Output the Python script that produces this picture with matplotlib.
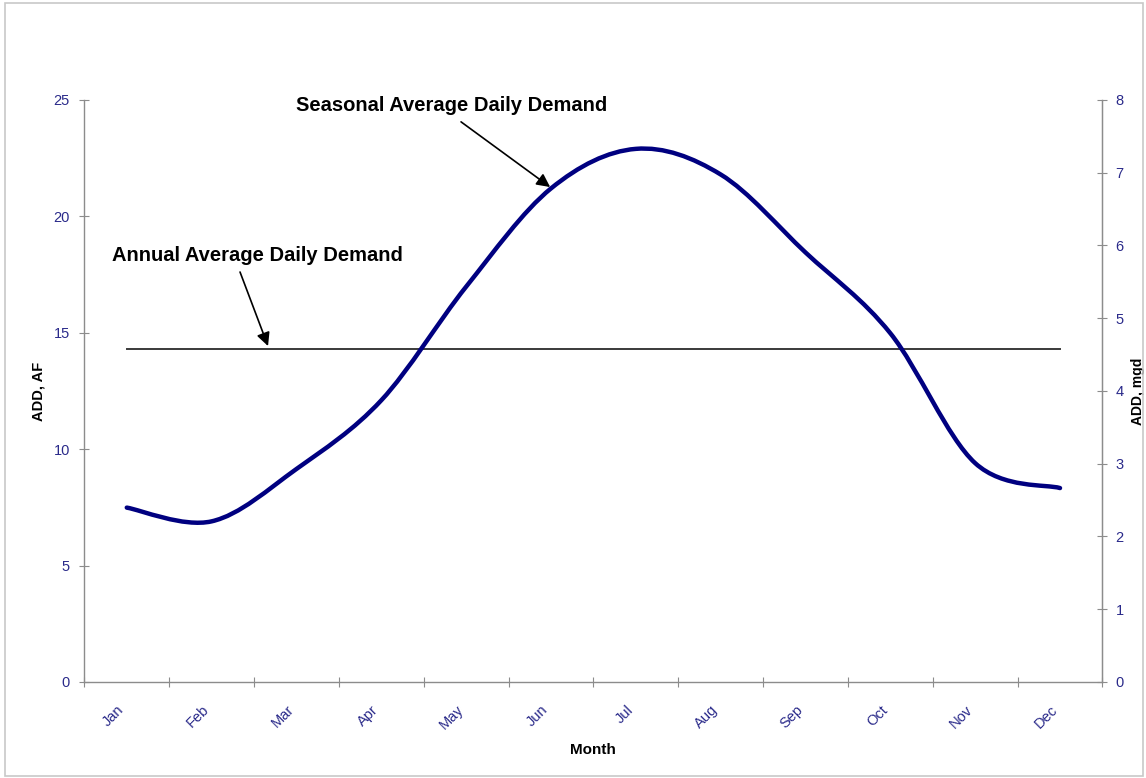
import matplotlib
matplotlib.use("Agg")
import matplotlib.pyplot as plt
from matplotlib.path import Path
from matplotlib.patches import PathPatch, Rectangle
import numpy as np

plt.rcParams['font.family'] = ['Liberation Sans', 'DejaVu Sans']

months = ["Jan", "Feb", "Mar", "Apr", "May", "Jun", "Jul", "Aug", "Sep", "Oct", "Nov", "Dec"]
seasonal_add_af = [7.49, 6.9, 9.15, 12.1, 16.98, 21.2, 22.9, 21.8, 18.45, 14.98, 9.4, 8.33]
annual_add_af = [14.3] * 12
left_ticks = [0, 5, 10, 15, 20, 25]
right_ticks = [0, 1, 2, 3, 4, 5, 6, 7, 8]

NAVY = "#000080"
LABEL_BLUE = "#2a2a8a"
AXIS_GREY = "#8c8c8c"

fig = plt.figure(figsize=(11.46, 7.78), dpi=100)
ax = fig.add_axes([0.0736, 0.1234, 0.8884, 0.7481])

x = np.arange(len(months))
y = np.array(seasonal_add_af, dtype=float)

# Smoothed curve (Excel-like Bezier through the data points)
verts = [(x[0], y[0])]
codes = [Path.MOVETO]
n = len(x)
for i in range(n - 1):
    p0 = np.array([x[i - 1], y[i - 1]]) if i > 0 else np.array([x[i], y[i]])
    p1 = np.array([x[i], y[i]])
    p2 = np.array([x[i + 1], y[i + 1]])
    p3 = np.array([x[i + 2], y[i + 2]]) if i + 2 < n else p2
    c1 = p1 + (p2 - p0) / 6.0
    c2 = p2 - (p3 - p1) / 6.0
    verts += [tuple(c1), tuple(c2), tuple(p2)]
    codes += [Path.CURVE4, Path.CURVE4, Path.CURVE4]
curve = PathPatch(Path(verts, codes), fill=False, edgecolor=NAVY, lw=3.2,
                  capstyle='round', joinstyle='round', zorder=3)
ax.add_patch(curve)

ax.plot(x, annual_add_af, color="#3a3a3a", lw=1.4, zorder=2)

ax.set_xlim(-0.5, 11.5)
ax.set_ylim(0, 25)
ax.set_yticks(left_ticks)
ax.set_xticks(np.arange(-0.5, 12, 1.0))
ax.set_xticks(x, minor=True)
ax.set_xticklabels([])
ax.set_xticklabels(months, minor=True, rotation=45, ha='right', va='top',
                   color=LABEL_BLUE, fontsize=10.5)
ax.tick_params(axis='x', which='minor', length=0, pad=15)
ax.tick_params(axis='x', which='major', direction='inout', length=7, color=AXIS_GREY)
ax.tick_params(axis='y', direction='inout', length=7, color=AXIS_GREY,
               labelcolor=LABEL_BLUE, labelsize=10.5, pad=7)

ax.spines['top'].set_visible(False)
for side in ['left', 'bottom', 'right']:
    ax.spines[side].set_color(AXIS_GREY)
    ax.spines[side].set_linewidth(1.0)

ax.set_ylabel("ADD, AF", fontweight='bold', fontsize=10.5, labelpad=6)
ax.set_xlabel("Month", fontweight='bold', fontsize=11, labelpad=8)

ax2 = ax.twinx()
ax2.set_ylim(0, 8)
ax2.set_yticks(right_ticks)
ax2.tick_params(axis='y', direction='inout', length=7, color=AXIS_GREY,
                labelcolor=LABEL_BLUE, labelsize=10.5, pad=6)
for side in ['top', 'left', 'bottom']:
    ax2.spines[side].set_visible(False)
ax2.spines['right'].set_color(AXIS_GREY)
ax2.set_ylabel("ADD, mgd", fontweight='bold', fontsize=10, labelpad=5)

arrow_kw = dict(arrowstyle='-|>', color='black', lw=1.2, mutation_scale=20,
                shrinkA=0, shrinkB=0)
ax.text(3.83, 24.78, "Seasonal Average Daily Demand", fontsize=14.5,
        fontweight='bold', ha='center', va='center')
ax.annotate("", xy=(4.99, 21.26), xytext=(3.94, 24.06), arrowprops=arrow_kw)
ax.text(1.54, 18.34, "Annual Average Daily Demand", fontsize=14.5,
        fontweight='bold', ha='center', va='center')
ax.annotate("", xy=(1.665, 14.43), xytext=(1.335, 17.61), arrowprops=arrow_kw)

fig.add_artist(Rectangle((0.004, 0.003), 0.993, 0.993, transform=fig.transFigure,
                         fill=False, edgecolor="#c8c8c8", lw=1.2))

fig.savefig("out.png", dpi=100)
